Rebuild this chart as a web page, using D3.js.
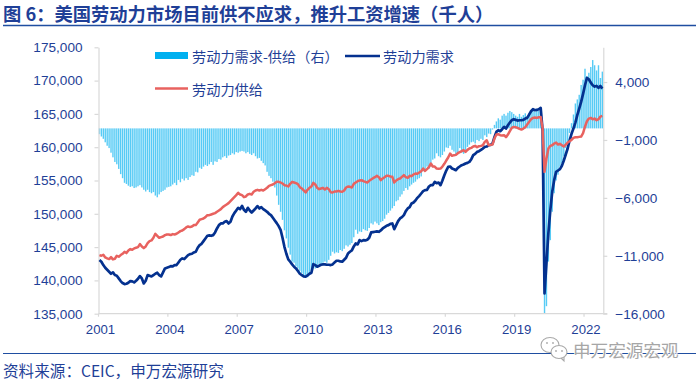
<!DOCTYPE html>
<html>
<head>
<meta charset="utf-8">
<script src="https://cdn.jsdelivr.net/npm/d3@7/dist/d3.min.js"></script>
<style>
  html, body { margin: 0; padding: 0; background: #fff; }
  svg { display: block; }
  text { font-family: "Liberation Sans", "Noto Sans CJK SC", sans-serif; fill: #1F3F97; }
</style>
</head>
<body>
<div id="chart"></div>
<script>
// values, one row per year, 2001-01 to 2022-10
const demand = [
  143050,142800,142300,141900,141600,141300,141000,141200,140800,140700,140300,139900,
  139600,139450,139500,139650,139900,139850,139700,139950,140250,140650,140300,139550,
  139950,140800,140700,140600,140800,141000,141150,140800,140600,141200,141800,141900,
  142000,142150,142100,142300,142300,142700,143100,143300,143200,143500,143800,143950,
  144000,144200,144300,144900,145300,145500,145900,146300,146700,146750,146700,146800,
  147200,147800,148300,148550,148550,148800,148900,148550,148800,149600,150100,150500,
  150900,150700,151200,150600,150300,150900,150500,150200,150500,150800,151150,150800,
  151000,150700,150500,150300,150000,149800,149400,149000,148600,148150,147600,146400,
  145050,144000,143150,142800,142400,142050,141800,141400,141000,140800,140600,140550,
  140750,141000,141150,142450,142300,142050,142200,142350,142400,142400,142350,142350,
  142300,142400,142700,142950,142950,142850,142800,143100,143400,144050,144300,144500,
  145100,145550,145400,146050,145900,146050,146000,146100,146400,147200,147250,147300,
  147350,147300,147500,147800,148000,148200,148300,148500,148550,147700,148300,148900,
  149300,149500,149800,150400,150800,151000,151550,151700,152000,152400,152700,153050,
  153400,153550,153600,154100,154300,154300,154800,154600,154700,154300,155000,155800,
  156500,157050,157100,156800,156700,156550,156900,157100,157300,157400,157550,157650,
  157800,158200,158800,159000,159300,159400,159600,159800,160050,160100,160300,160350,
  160550,161500,162300,162550,162400,162700,163050,162800,163300,163700,164050,164200,
  164100,164000,164050,164050,164100,164300,164400,164900,165400,165700,165550,165600,
  165700,165900,162500,138050,142600,147100,150550,153300,155050,156300,156500,156700,
  157200,158000,158900,159800,161000,162000,162800,163700,164800,165800,166800,168000,
  169300,170400,170200,169700,169300,169100,169200,168900,169200,168800
];
const supply = [
  143800,143700,143850,143450,143300,143200,143500,143150,143250,143700,143550,143800,
  144000,144300,144100,144500,144700,144600,144800,144900,145000,145450,145100,144850,
  145100,145600,145900,146000,146400,147000,146700,146400,146500,146600,146800,146900,
  146900,146800,146950,146900,147000,147200,147400,147500,147700,147950,148100,148000,
  148100,148300,148300,148700,149100,149200,149300,149500,149800,149800,149900,150000,
  150100,150300,150500,150700,151000,151200,151400,151600,151900,152200,152500,152800,
  153150,152900,152800,152500,152600,152900,153000,152900,153300,153500,153600,153500,
  153600,153500,153700,153900,154200,154300,154400,154600,154800,154800,154700,154550,
  154300,154250,154100,154500,154800,154700,154600,154450,154000,153800,153500,153200,
  153600,153900,154100,154650,154400,153900,153700,153800,153900,153650,153900,153700,
  153250,153200,153350,153350,153450,153350,153300,153500,153950,154100,154050,153950,
  154500,154700,154900,155000,155050,154900,154800,154700,154950,155150,155350,155500,
  155700,155500,155050,155300,155500,155700,155700,155600,155550,154700,155000,155200,
  155300,155550,155800,155500,155400,155700,155650,155900,156050,156000,156200,156400,
  156800,156450,156700,157000,157550,157100,157100,156800,156750,156800,157100,157500,
  158000,158450,159050,158700,158800,158850,159100,159250,159400,159550,159300,159600,
  159800,159900,160100,160200,160000,160150,160200,160300,160800,161050,160300,160350,
  160400,161300,161900,161950,161800,161750,161800,161500,161900,162400,162900,163050,
  163000,162900,162750,162650,162800,163000,163400,163800,164200,164400,164450,164400,
  164500,164550,162800,156300,158300,159800,160200,160300,160550,160700,160400,160500,
  160300,160100,160400,160700,160900,161100,161400,161500,161500,161550,161600,162100,
  163100,163900,164300,164400,164200,164300,164050,164200,164600,164700
];
// right axis bars
const gap = [
  -500,-700,-900,-1200,-1500,-1700,-2100,-2500,-2900,-3100,-3500,-3950,
  -4300,-4700,-4800,-4950,-5050,-5000,-5150,-5100,-5000,-4900,-5100,-5300,
  -5450,-5300,-5500,-5600,-5500,-5800,-5950,-5700,-5500,-5400,-5300,-5100,
  -5050,-5000,-4850,-4700,-4900,-4450,-4650,-4350,-4500,-4300,-4450,-4200,
  -4050,-4100,-3750,-3800,-3400,-3500,-3300,-3150,-3250,-3100,-2900,-3150,
  -2850,-2900,-2650,-2700,-2500,-2400,-2550,-2350,-2300,-2150,-2250,-2050,
  -2100,-2000,-1950,-2000,-2150,-2050,-2200,-2300,-2150,-2400,-2600,-2550,
  -2800,-3000,-3200,-3750,-4100,-4300,-4600,-5100,-5800,-6600,-7200,-7900,
  -8800,-9500,-10300,-10900,-11500,-11600,-11900,-12100,-12300,-12500,-12700,-12700,
  -12850,-12500,-12300,-11950,-12100,-11800,-11700,-11800,-11600,-11500,-11600,-11350,
  -11000,-10650,-10800,-10700,-10750,-10500,-10600,-10400,-10100,-10200,-10050,-9900,
  -9400,-8750,-9100,-8900,-8950,-8700,-8800,-8850,-8600,-8200,-8300,-8050,
  -8200,-8350,-8100,-8000,-7800,-7450,-7300,-7100,-6900,-6700,-6300,-6200,
  -5900,-5700,-5400,-5150,-5300,-5000,-4850,-4700,-4600,-4400,-4300,-4150,
  -3700,-3600,-3300,-3500,-3300,-2700,-2600,-2150,-2400,-2500,-2300,-2000,
  -1650,-1700,-1500,-1850,-2000,-2300,-2100,-1700,-2100,-2200,-1900,-1600,
  -1400,-1200,-1150,-1300,-1000,-1100,-900,-1000,-600,-750,-450,-500,
  -100,300,600,870,750,1100,1250,1100,1350,1500,1400,1250,
  1100,1000,1250,1000,1150,1300,1050,1300,1550,1750,1450,1700,
  1500,1700,-300,-15950,-15350,-11500,-9650,-7200,-5600,-4500,-4000,-3300,
  -3000,-2400,-1700,-1150,-400,450,1200,2150,2500,2900,3750,4200,
  5150,4500,4800,5300,5900,5450,5000,5450,4350,4900
];
const leftTicks = [135000, 140000, 145000, 150000, 155000, 160000, 165000, 170000, 175000];
const rightTicks = [-16000, -11000, -6000, -1000, 4000];
const yearTicks = [0, 36, 72, 108, 144, 180, 216, 252]; // month index of each labelled January

const TITLE = '图 6：美国劳动力市场目前供不应求，推升工资增速（千人）';
const SOURCE = '资料来源：CEIC，申万宏源研究';
const LEGEND_GAP = '劳动力需求-供给（右）';
const LEGEND_DEMAND = '劳动力需求';
const LEGEND_SUPPLY = '劳动力供给';
const WATERMARK = '申万宏源宏观';

const WIDTH = 700;
const HEIGHT = 382;
const PLOT = { left: 98.5, right: 603.3, top: 47.3, bottom: 313.7 };
const NAVY = '#1F3F97';
const LINE_NAVY = '#04318F';
const LINE_RED = '#E8625F';
const BAR_BLUE = '#00B0F0';
const AXIS_GREY = '#D9D9D9';

const svg = d3.select('#chart').append('svg').attr('width', WIDTH).attr('height', HEIGHT);

const months = d3.range(demand.length);
const x = d3.scaleBand().domain(months).range([PLOT.left, PLOT.right]);
const yLeft = d3.scaleLinear().domain([135000, 175000]).range([PLOT.bottom, PLOT.top]);
const yRight = d3.scaleLinear().domain([-16000, 7000]).range([PLOT.bottom, PLOT.top]);
const cx = i => x(i) + x.bandwidth() / 2;

// header and footer
svg.append('text').attr('x', 3).attr('y', 21)
  .style('font-size', '18.3px').style('font-weight', 'bold')
  .style('font-family', '"Noto Sans CJK SC", sans-serif')
  .text(TITLE);
svg.append('line').attr('x1', 3).attr('x2', 696).attr('y1', 25.5).attr('y2', 25.5)
  .attr('stroke', '#1F4EA1').attr('stroke-width', 1.6);
svg.append('line').attr('x1', 3).attr('x2', 696).attr('y1', 353.5).attr('y2', 353.5)
  .attr('stroke', '#1F4EA1').attr('stroke-width', 1.2);
svg.append('text').attr('x', 3).attr('y', 377)
  .style('font-size', '15.6px')
  .style('font-family', '"Noto Sans CJK SC", sans-serif')
  .text(SOURCE);

// bars
svg.append('g').selectAll('rect').data(months).join('rect')
  .attr('x', i => cx(i) - 0.7)
  .attr('width', 1.4)
  .attr('y', i => Math.min(yRight(0), yRight(gap[i])))
  .attr('height', i => Math.abs(yRight(gap[i]) - yRight(0)))
  .attr('fill', BAR_BLUE)
  .attr('fill-opacity', 0.66);

// axes
function styleAxis(g) {
  g.selectAll('.domain').attr('stroke', AXIS_GREY).attr('stroke-width', 1.2);
  g.selectAll('.tick line').attr('stroke', AXIS_GREY).attr('stroke-width', 1.2);
  g.selectAll('text').attr('fill', NAVY).style('fill', NAVY).style('font-size', '13.6px');
}

svg.append('g')
  .attr('transform', `translate(${PLOT.left},0)`)
  .call(d3.axisLeft(yLeft).tickValues(leftTicks).tickFormat(d3.format(',')).tickSize(4).tickSizeOuter(0).tickPadding(12))
  .call(styleAxis);

svg.append('g')
  .attr('transform', `translate(${PLOT.right},0)`)
  .call(d3.axisRight(yRight).tickValues(rightTicks).tickFormat(d3.format(',')).tickSize(4).tickSizeOuter(0).tickPadding(8))
  .call(styleAxis);

const xAxis = svg.append('g')
  .attr('transform', `translate(0,${PLOT.bottom})`)
  .call(d3.axisBottom(x).tickValues(yearTicks).tickFormat(i => 2001 + i / 12).tickSize(3).tickSizeOuter(0).tickPadding(8))
  .call(styleAxis);
xAxis.select('.domain').attr('d', `M${PLOT.left},0H${PLOT.right + 4}`);
// ticks sit on the left edge of the month
xAxis.selectAll('.tick line').attr('x1', -x.bandwidth() / 2).attr('x2', -x.bandwidth() / 2);
xAxis.selectAll('.tick text').attr('dx', 1).style('font-size', '13.2px');

// lines
const demandLine = d3.line().x(cx).y(i => yLeft(demand[i]));
const supplyLine = d3.line().x(cx).y(i => yLeft(supply[i]));

svg.append('path').datum(months).attr('d', demandLine)
  .attr('fill', 'none').attr('stroke', LINE_NAVY).attr('stroke-width', 2.7).attr('stroke-linejoin', 'round');
svg.append('path').datum(months).attr('d', supplyLine)
  .attr('fill', 'none').attr('stroke', LINE_RED).attr('stroke-width', 2.5).attr('stroke-linejoin', 'round');

// legend
const legendFont = sel => sel.style('font-size', '14.2px').style('font-family', '"Noto Sans CJK SC", sans-serif');
svg.append('rect').attr('x', 155).attr('y', 52).attr('width', 33).attr('height', 7).attr('fill', BAR_BLUE);
svg.append('text').attr('x', 192).attr('y', 62).call(legendFont).text(LEGEND_GAP);
svg.append('line').attr('x1', 345).attr('x2', 380).attr('y1', 56).attr('y2', 56)
  .attr('stroke', LINE_NAVY).attr('stroke-width', 2.7);
svg.append('text').attr('x', 383).attr('y', 62).call(legendFont).text(LEGEND_DEMAND);
svg.append('line').attr('x1', 155).attr('x2', 188).attr('y1', 88.5).attr('y2', 88.5)
  .attr('stroke', LINE_RED).attr('stroke-width', 2.5);
svg.append('text').attr('x', 192).attr('y', 94.5).call(legendFont).text(LEGEND_SUPPLY);

// watermark with the two chat bubbles
const mark = svg.append('g').attr('fill', 'none').attr('stroke', '#A9A9A9').attr('stroke-width', 1.1);
mark.append('ellipse').attr('cx', 550).attr('cy', 345).attr('rx', 9).attr('ry', 7.5).attr('fill', '#fff');
mark.append('ellipse').attr('cx', 559).attr('cy', 352).attr('rx', 8).attr('ry', 6.5).attr('fill', '#fff');
mark.append('path').attr('d', 'M561,358l3,3l0,-4');
[[547, 343], [553, 343], [556, 351], [562, 351]].forEach(p => {
  svg.append('circle').attr('cx', p[0]).attr('cy', p[1]).attr('r', 0.9).attr('fill', '#A9A9A9');
});
svg.append('text').attr('x', 573).attr('y', 357)
  .style('font-size', '17.6px')
  .style('font-family', '"Noto Sans CJK SC", sans-serif')
  .style('fill', '#A6A6A6').style('stroke', '#fff').style('stroke-width', 1.5).style('paint-order', 'stroke')
  .text(WATERMARK);
</script>
</body>
</html>
